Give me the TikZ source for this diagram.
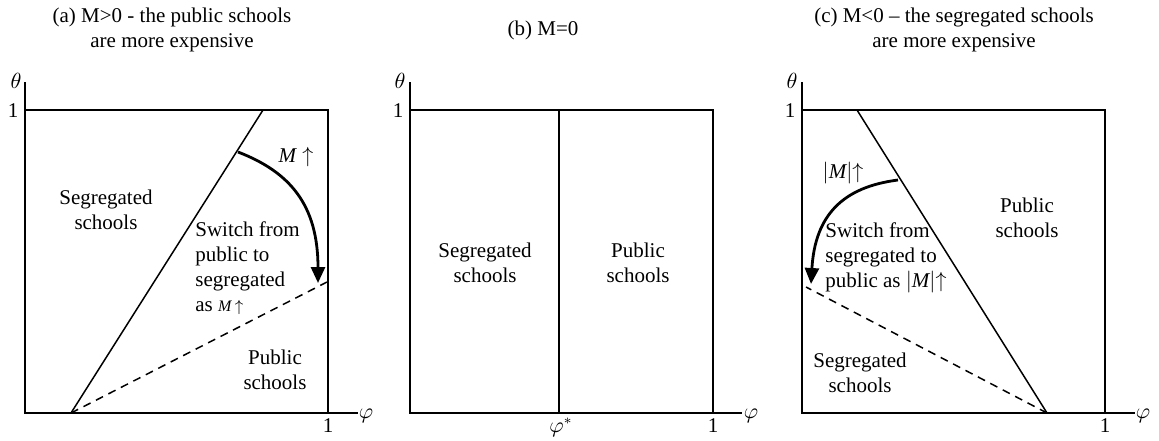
\documentclass[tikz,border=0pt]{standalone}
\usepackage{fontspec}
\setmainfont{Liberation Serif}
\usetikzlibrary{arrows.meta}
\tikzset{
  >=latex,
  % assi e riquadri
  axis/.style={line width=1pt},
  border/.style={line width=1pt},
  % confini tra le regioni
  divide/.style={line width=0.75pt},
  divide dash/.style={line width=0.75pt,dash pattern=on 4pt off 3pt},
  shift arrow/.style={line width=1.4pt,-{Triangle[length=8pt,width=7pt]}},
  lbl/.style={font=\fontsize{10.5}{12.5}\selectfont,inner sep=0pt,align=center}
}

\begin{document}
\begin{tikzpicture}[x=0.5pt,y=-0.5pt]
  \useasboundingbox (0,0) rectangle (1159,440);
  % (a) M>0
  \node[lbl] (titleA) at (172,30) {(a) M>0 - the public schools\\are more expensive};
  \draw[axis] (25,82) |- (358,413);
  \draw[border] (25,110) -| (328,413);
  \node[lbl] (thetaA) at (16,81) {$\theta$};
  \node[lbl] (oneAy) at (13,111) {1};
  \node[lbl,anchor=base] (oneAx) at (328,432) {1};
  \node[lbl,anchor=base] (phiA) at (366,418) {$\varphi$};
  \draw[divide] (71,413) -- (263,110);
  \draw[divide dash] (71,413) -- (327,282);
  \coordinate (fromA) at (238,152);
  \coordinate (toA) at (318,283);
  \draw[shift arrow] (fromA) .. controls (290,172) and (318,205) .. (toA);
  \node[lbl] (mA) at (296,157) {\textit{M}\ ${\uparrow}$};
  \node[lbl] (segA) at (106,210) {Segregated\\schools};
  \node[lbl,anchor=west,align=left] (switchA) at (195,268) {Switch from\\public to\\segregated\\as {\footnotesize\textit{M}\,${\uparrow}$}};
  \node[lbl] (pubA) at (275,370) {Public\\schools};

  % (b) M=0
  \node[lbl] (titleB) at (543,30) {(b) M=0};
  \draw[axis] (410,82) |- (742,413);
  \draw[border] (410,110) -| (713,413);
  \draw[border] (559,110) -- (559,413);
  \node[lbl] (thetaB) at (400,81) {$\theta$};
  \node[lbl] (oneBy) at (398,111) {1};
  \node[lbl,anchor=base] (starB) at (561,432) {$\varphi^{*}$};
  \node[lbl,anchor=base] (oneBx) at (713,432) {1};
  \node[lbl,anchor=base] (phiB) at (751,418) {$\varphi$};
  \node[lbl] (segB) at (485,263) {Segregated\\schools};
  \node[lbl] (pubB) at (638,263) {Public\\schools};

  % (c) M<0
  \node[lbl] (titleC) at (954,30) {(c) M<0 -- the segregated schools\\are more expensive};
  \draw[axis] (802,82) |- (1135,413);
  \draw[border] (802,110) -| (1105,413);
  \node[lbl] (thetaC) at (792,81) {$\theta$};
  \node[lbl] (oneCy) at (790,111) {1};
  \node[lbl,anchor=base] (oneCx) at (1105,432) {1};
  \node[lbl,anchor=base] (phiC) at (1143,418) {$\varphi$};
  \draw[divide] (857,110) -- (1047,413);
  \draw[divide dash] (1047,413) -- (806,287);
  \coordinate (fromC) at (898,180);
  \coordinate (toC) at (811,284);
  \draw[shift arrow] (fromC) .. controls (843,187) and (815,215) .. (toC);
  \node[lbl] (mC) at (843,173) {$|\textit{M}|{\uparrow}$};
  \node[lbl,anchor=west,align=left] (switchC) at (825,258) {Switch from\\segregated to\\public as $|\textit{M}|{\uparrow}$};
  \node[lbl] (pubC) at (1027,218) {Public\\schools};
  \node[lbl] (segC) at (860,373) {Segregated\\schools};
\end{tikzpicture}
\end{document}
